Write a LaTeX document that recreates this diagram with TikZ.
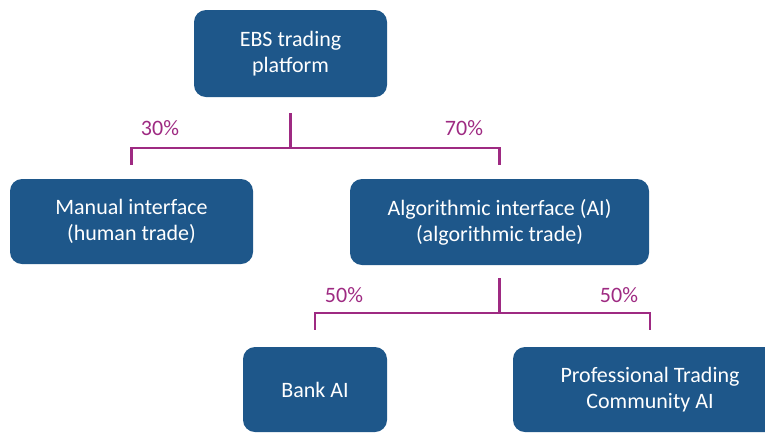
\documentclass[tikz,border=0pt]{standalone}
\usepackage{fontspec}
\setmainfont{Carlito}
\definecolor{boxblue}{RGB}{30,87,138}
\definecolor{splitpink}{RGB}{158,42,130}
\tikzset{
	box/.style={draw=none, fill=boxblue, rounded corners=12pt, text=white, align=center, font=\fontsize{22}{26}\selectfont, inner sep=0pt},
	pct/.style={text=splitpink, font=\fontsize{22}{26}\selectfont, inner sep=0pt},
	split/.style={draw=splitpink, line width=2.4pt}
}
\begin{document}
\begin{tikzpicture}[x=1pt, y=-1pt]
	\useasboundingbox (0,0) rectangle (765,432);
	\clip (0,0) rectangle (765,432);

	% boxes
	\node[box, minimum width=193pt, minimum height=87pt] (ebs) at (290.5,53.5) {EBS trading\\platform};
	\node[box, minimum width=243pt, minimum height=85pt] (manual) at (131.5,221.5) {Manual interface\\(human trade)};
	\node[box, minimum width=299pt, minimum height=86pt] (ai) at (499.5,222) {Algorithmic interface (AI)\\(algorithmic trade)};
	\node[box, minimum width=144pt, minimum height=85pt] (bank) at (315,389.5) {Bank AI};
	\node[box, minimum width=274pt, minimum height=85pt] (prof) at (650,389.5) {Professional Trading\\Community AI};

	% split 1
	\coordinate (bar1) at ([yshift=-51pt]ebs.south);
	\draw[split] ([yshift=-16pt]ebs.south) -- (bar1);
	\draw[split] ([yshift=14pt]manual.north) |- (bar1) -| ([yshift=14pt]ai.north);
	\node[pct] (p30) at (160,128) {30\%};
	\node[pct] (p70) at (464,128) {70\%};

	% split 2
	\coordinate (bar2) at ([yshift=-48pt]ai.south);
	\draw[split] ([yshift=-13pt]ai.south) -- (bar2);
	\draw[split] ([yshift=17pt]bank.north) |- (bar2) -| ([yshift=17pt]prof.north);
	\node[pct] (p50a) at (344,295) {50\%};
	\node[pct] (p50b) at (619,295) {50\%};
\end{tikzpicture}
\end{document}
